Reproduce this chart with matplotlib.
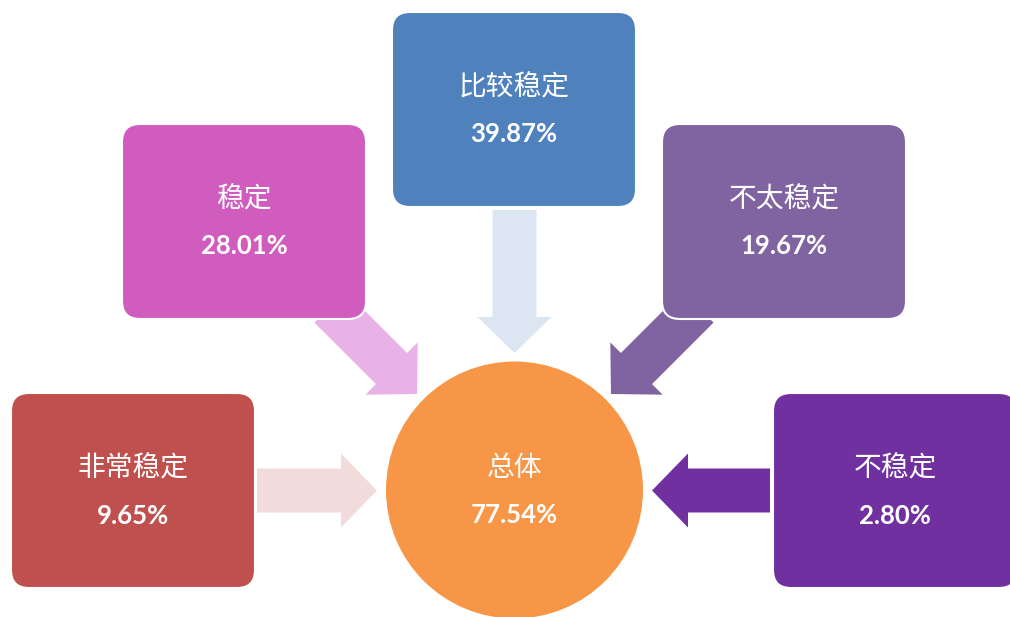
import matplotlib.pyplot as plt
from matplotlib.patches import FancyBboxPatch, FancyArrow, Circle

plt.rcParams['font.family'] = ['Noto Sans CJK SC', 'DejaVu Sans']

# data
labels = ['非常稳定', '稳定', '比较稳定', '不太稳定', '不稳定']
values = [9.65, 28.01, 39.87, 19.67, 2.80]
total_label = '总体'
total_value = 77.54

box_colors = ['#C0504D', '#D05CBE', '#4F81BD', '#8064A2', '#7030A0']
arrow_colors = ['#F2DCDB', '#E8B2E6', '#DCE6F2', '#8064A2', '#7030A0']
circle_color = '#F79646'

# layout (pixel units, y downwards)
box_w, box_h = 244, 195
box_left = [11, 122, 392, 662, 773]
box_top = [393, 124, 12, 124, 393]
arrow_tail = [(257, 490.5), (330, 307), (514.5, 210), (698, 307), (770, 490.5)]
arrow_tip = [(377, 490.5), (417, 394), (514.5, 353), (611, 394), (652, 490.5)]
center = (514.5, 490)
radius = 128.5


def draw_texts(ax, cx, cy, label, value):
    ax.text(cx, cy - 22, label, color='white', fontsize=20, fontweight='light',
            ha='center', va='center', zorder=4)
    ax.text(cx, cy + 25, '%.2f%%' % value, color='white', fontsize=18.5,
            fontweight='bold', family=['Lato', 'DejaVu Sans'],
            ha='center', va='center', zorder=4)


fig = plt.figure(figsize=(10.1, 6.17), dpi=100)
ax = fig.add_axes([0, 0, 1, 1])
ax.set_xlim(0, 1010)
ax.set_ylim(617, 0)
ax.axis('off')

for (x0, y0), (x1, y1), c in zip(arrow_tail, arrow_tip, arrow_colors):
    ax.add_patch(FancyArrow(x0, y0, x1 - x0, y1 - y0, width=44,
                            head_width=74, head_length=36,
                            length_includes_head=True,
                            facecolor=c, edgecolor='none', zorder=2))

for x, y, c, lab, v in zip(box_left, box_top, box_colors, labels, values):
    ax.add_patch(FancyBboxPatch((x, y), box_w, box_h,
                                boxstyle='round,pad=0,rounding_size=18',
                                facecolor=c, edgecolor='white', lw=1.5,
                                zorder=3))
    draw_texts(ax, x + box_w / 2.0, y + box_h / 2.0, lab, v)

ax.add_patch(Circle(center, radius, facecolor=circle_color,
                    edgecolor='none', zorder=3))
draw_texts(ax, center[0], center[1], total_label, total_value)

fig.savefig('out.png', dpi=100, facecolor='white')
